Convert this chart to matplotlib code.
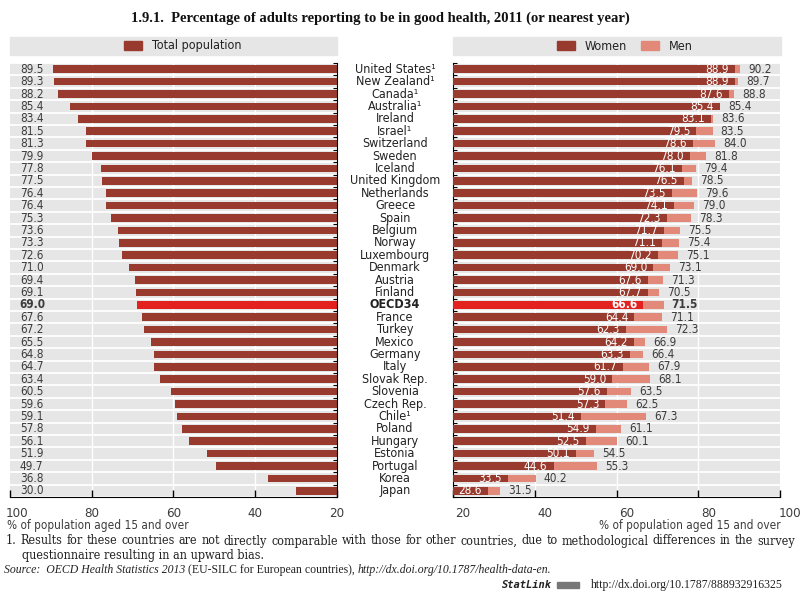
import matplotlib
matplotlib.use('Agg')
import matplotlib.pyplot as plt
from matplotlib import transforms
from matplotlib import font_manager as fm
from matplotlib.patches import Rectangle

countries = ['United States¹', 'New Zealand¹', 'Canada¹', 'Australia¹', 'Ireland',
             'Israel¹', 'Switzerland', 'Sweden', 'Iceland', 'United Kingdom',
             'Netherlands', 'Greece', 'Spain', 'Belgium', 'Norway', 'Luxembourg',
             'Denmark', 'Austria', 'Finland', 'OECD34', 'France', 'Turkey', 'Mexico',
             'Germany', 'Italy', 'Slovak Rep.', 'Slovenia', 'Czech Rep.', 'Chile¹',
             'Poland', 'Hungary', 'Estonia', 'Portugal', 'Korea', 'Japan']
total = [89.5, 89.3, 88.2, 85.4, 83.4, 81.5, 81.3, 79.9, 77.8, 77.5, 76.4, 76.4,
         75.3, 73.6, 73.3, 72.6, 71.0, 69.4, 69.1, 69.0, 67.6, 67.2, 65.5, 64.8,
         64.7, 63.4, 60.5, 59.6, 59.1, 57.8, 56.1, 51.9, 49.7, 36.8, 30.0]
women = [88.9, 88.9, 87.6, 85.4, 83.1, 79.5, 78.6, 78.0, 76.1, 76.5, 73.5, 74.1,
         72.3, 71.7, 71.1, 70.2, 69.0, 67.6, 67.7, 66.6, 64.4, 62.3, 64.2, 63.3,
         61.7, 59.0, 57.6, 57.3, 51.4, 54.9, 52.5, 50.1, 44.6, 33.5, 28.6]
men = [90.2, 89.7, 88.8, 85.4, 83.6, 83.5, 84.0, 81.8, 79.4, 78.5, 79.6, 79.0,
       78.3, 75.5, 75.4, 75.1, 73.1, 71.3, 70.5, 71.5, 71.1, 72.3, 66.9, 66.4,
       67.9, 68.1, 63.5, 62.5, 67.3, 61.1, 60.1, 54.5, 55.3, 40.2, 31.5]
xticks = [20, 40, 60, 80, 100]

dark = '#983b2e'
light = '#e2897a'
oecd_red = '#e3211f'
grey = '#e6e6e7'
txt = '#3c3c3c'

# look for a narrow sans face, the original uses a condensed font
cond = [f for f in fm.fontManager.ttflist
        if ('Condensed' in f.fname or 'Narrow' in f.fname)
        and 'Serif' not in f.fname and 'Mono' not in f.fname]
if cond:
    plt.rcParams['font.family'] = [cond[0].name, 'Liberation Sans', 'DejaVu Sans']
    plt.rcParams['font.stretch'] = cond[0].stretch
    fs = 9
else:
    plt.rcParams['font.family'] = ['Liberation Sans', 'DejaVu Sans']
    fs = 8
serif = ['Liberation Serif', 'DejaVu Serif']

W, H = 800, 602
fig = plt.figure(figsize=(8, 6.02), dpi=100)


def px(x0, y0, x1, y1):
    return [x0 / W, 1 - y1 / H, (x1 - x0) / W, (y1 - y0) / H]


ax1 = fig.add_axes(px(10, 63, 337, 497))
ax2 = fig.add_axes(px(453, 63, 780, 497))

n = len(countries)
y = list(range(n))
oecd = countries.index('OECD34')
dcols = [oecd_red if i == oecd else dark for i in y]

for ax in (ax1, ax2):
    ax.set_facecolor(grey)
    ax.set_ylim(n - 0.5, -0.5)
    for b in range(n + 1):
        ax.axhline(b - 0.5, color='white', lw=1.3, zorder=1)
    for v in (40, 60, 80):
        ax.axvline(v, color='white', lw=1, zorder=1)
    ax.set_xticks(xticks)
    ax.set_yticks([b - 0.5 for b in range(n + 1)])
    ax.set_yticklabels([])
    ax.tick_params(axis='x', direction='in', length=5, width=1, pad=7,
                   labelsize=fs + 0.5, labelcolor=txt)
    ax.tick_params(axis='y', direction='in', length=3, width=0.8)
    ax.spines['top'].set_visible(False)

# left panel: total population
ax1.set_xlim(100, 20)
ax1.spines['left'].set_visible(False)
ax1.yaxis.tick_right()
ax1.barh(y, [t - 20 for t in total], left=20, height=0.6, color=dcols, zorder=2)
for i, t in enumerate(total):
    ax1.text(97.6, i, f'{t:.1f}', ha='left', va='center', fontsize=fs - 0.5, color=txt,
             fontweight='bold' if i == oecd else 'normal')

# right panel: women / men
ax2.set_xlim(20, 100)
ax2.spines['right'].set_visible(False)
ax2.barh(y, [m - 20 for m in men], left=20, height=0.6, color=light, zorder=2)
ax2.barh(y, [w - 20 for w in women], left=20, height=0.6, color=dcols, zorder=3)
for i, (w, m) in enumerate(zip(women, men)):
    bold = 'bold' if i == oecd else 'normal'
    ax2.text(w - 1.5, i, f'{w:.1f}', ha='right', va='center', fontsize=fs - 0.5,
             color='white', fontweight=bold, zorder=4)
    ax2.text(max(w, m) + 2, i, f'{m:.1f}', ha='left', va='center', fontsize=fs - 0.5,
             color=txt, fontweight=bold, zorder=4)

# tick label nudges to match the original placement
fig.canvas.draw()
lab = ax1.get_xticklabels()
lab[-1].set_horizontalalignment('left')
lab[-1].set_transform(lab[-1].get_transform() + transforms.ScaledTranslation(-4 / 100, 0, fig.dpi_scale_trans))
for t in ax2.get_xticklabels():
    t.set_transform(t.get_transform() + transforms.ScaledTranslation(10 / 100, 0, fig.dpi_scale_trans))

# country names between the panels
trans = transforms.blended_transform_factory(fig.transFigure, ax1.transData)
for i, c in enumerate(countries):
    ax1.text(395 / W, i, c, transform=trans, ha='center', va='center', fontsize=fs,
             color='#222222', fontweight='bold' if i == oecd else 'normal')

# axis captions
fig.text(7 / W, 1 - 525 / H, '% of population aged 15 and over', fontsize=fs - 0.5,
         color=txt, ha='left', va='center')
fig.text(781 / W, 1 - 525 / H, '% of population aged 15 and over', fontsize=fs - 0.5,
         color=txt, ha='right', va='center')


# legend boxes
def legend_box(x0, x1, items):
    fig.patches.append(Rectangle((x0 / W, 1 - 55 / H), (x1 - x0) / W, 18 / H,
                                 transform=fig.transFigure, color=grey, zorder=0))
    for px0, col, lab in items:
        fig.patches.append(Rectangle((px0 / W, 1 - 50 / H), 18 / W, 9 / H,
                                     transform=fig.transFigure, color=col))
        fig.text((px0 + 28) / W, 1 - 46 / H, lab, fontsize=fs, color='#222222',
                 ha='left', va='center')


legend_box(10, 337, [(124, dark, 'Total population')])
legend_box(453, 781, [(557, dark, 'Women'), (641, light, 'Men')])

# title
fig.text(380 / W, 1 - 18 / H,
         '1.9.1.  Percentage of adults reporting to be in good health, 2011 (or nearest year)',
         family=serif, fontweight='bold', fontsize=10.5, ha='center', va='center',
         color='#111111')

# notes
renderer = fig.canvas.get_renderer()


def justify(line, x0, x1, yy, size=9):
    words = line.split()
    objs = [fig.text(0, 1 - yy / H, wd, family=['DejaVu Serif'], fontsize=size,
                     color='#222222', va='center') for wd in words]
    widths = [o.get_window_extent(renderer).width for o in objs]
    gap = (x1 - x0 - sum(widths)) / (len(words) - 1)
    xx = x0
    for o, wdt in zip(objs, widths):
        o.set_x(xx / W)
        xx += wdt + gap


def segments(parts, x0, yy, size=8.5):
    xx = x0
    for s, style in parts:
        o = fig.text(xx / W, 1 - yy / H, s, family=serif, fontsize=size, style=style,
                     color='#222222', va='center')
        xx += o.get_window_extent(renderer).width


justify('1. Results for these countries are not directly comparable with those for '
        'other countries, due to methodological differences in the survey', 6, 795, 541)
fig.text(22 / W, 1 - 555 / H, 'questionnaire resulting in an upward bias.',
         family=['DejaVu Serif'], fontsize=9, color='#222222', va='center')
segments([('Source:  OECD Health Statistics 2013 ', 'italic'),
          ('(EU-SILC for European countries), ', 'normal'),
          ('http://dx.doi.org/10.1787/health-data-en.', 'italic')], 4, 570)

fig.text(502 / W, 1 - 585 / H, 'StatLink', family=['DejaVu Sans Mono'], fontsize=7.5,
         fontweight='bold', style='italic', color='#222222', va='center')
fig.patches.append(Rectangle((557 / W, 1 - 588 / H), 22 / W, 6 / H,
                             transform=fig.transFigure, color='#777777'))
fig.text(783 / W, 1 - 585 / H, 'http://dx.doi.org/10.1787/888932916325',
         family=serif, fontsize=8.5, color='#222222', ha='right', va='center')

fig.savefig('out.png', dpi=100)
